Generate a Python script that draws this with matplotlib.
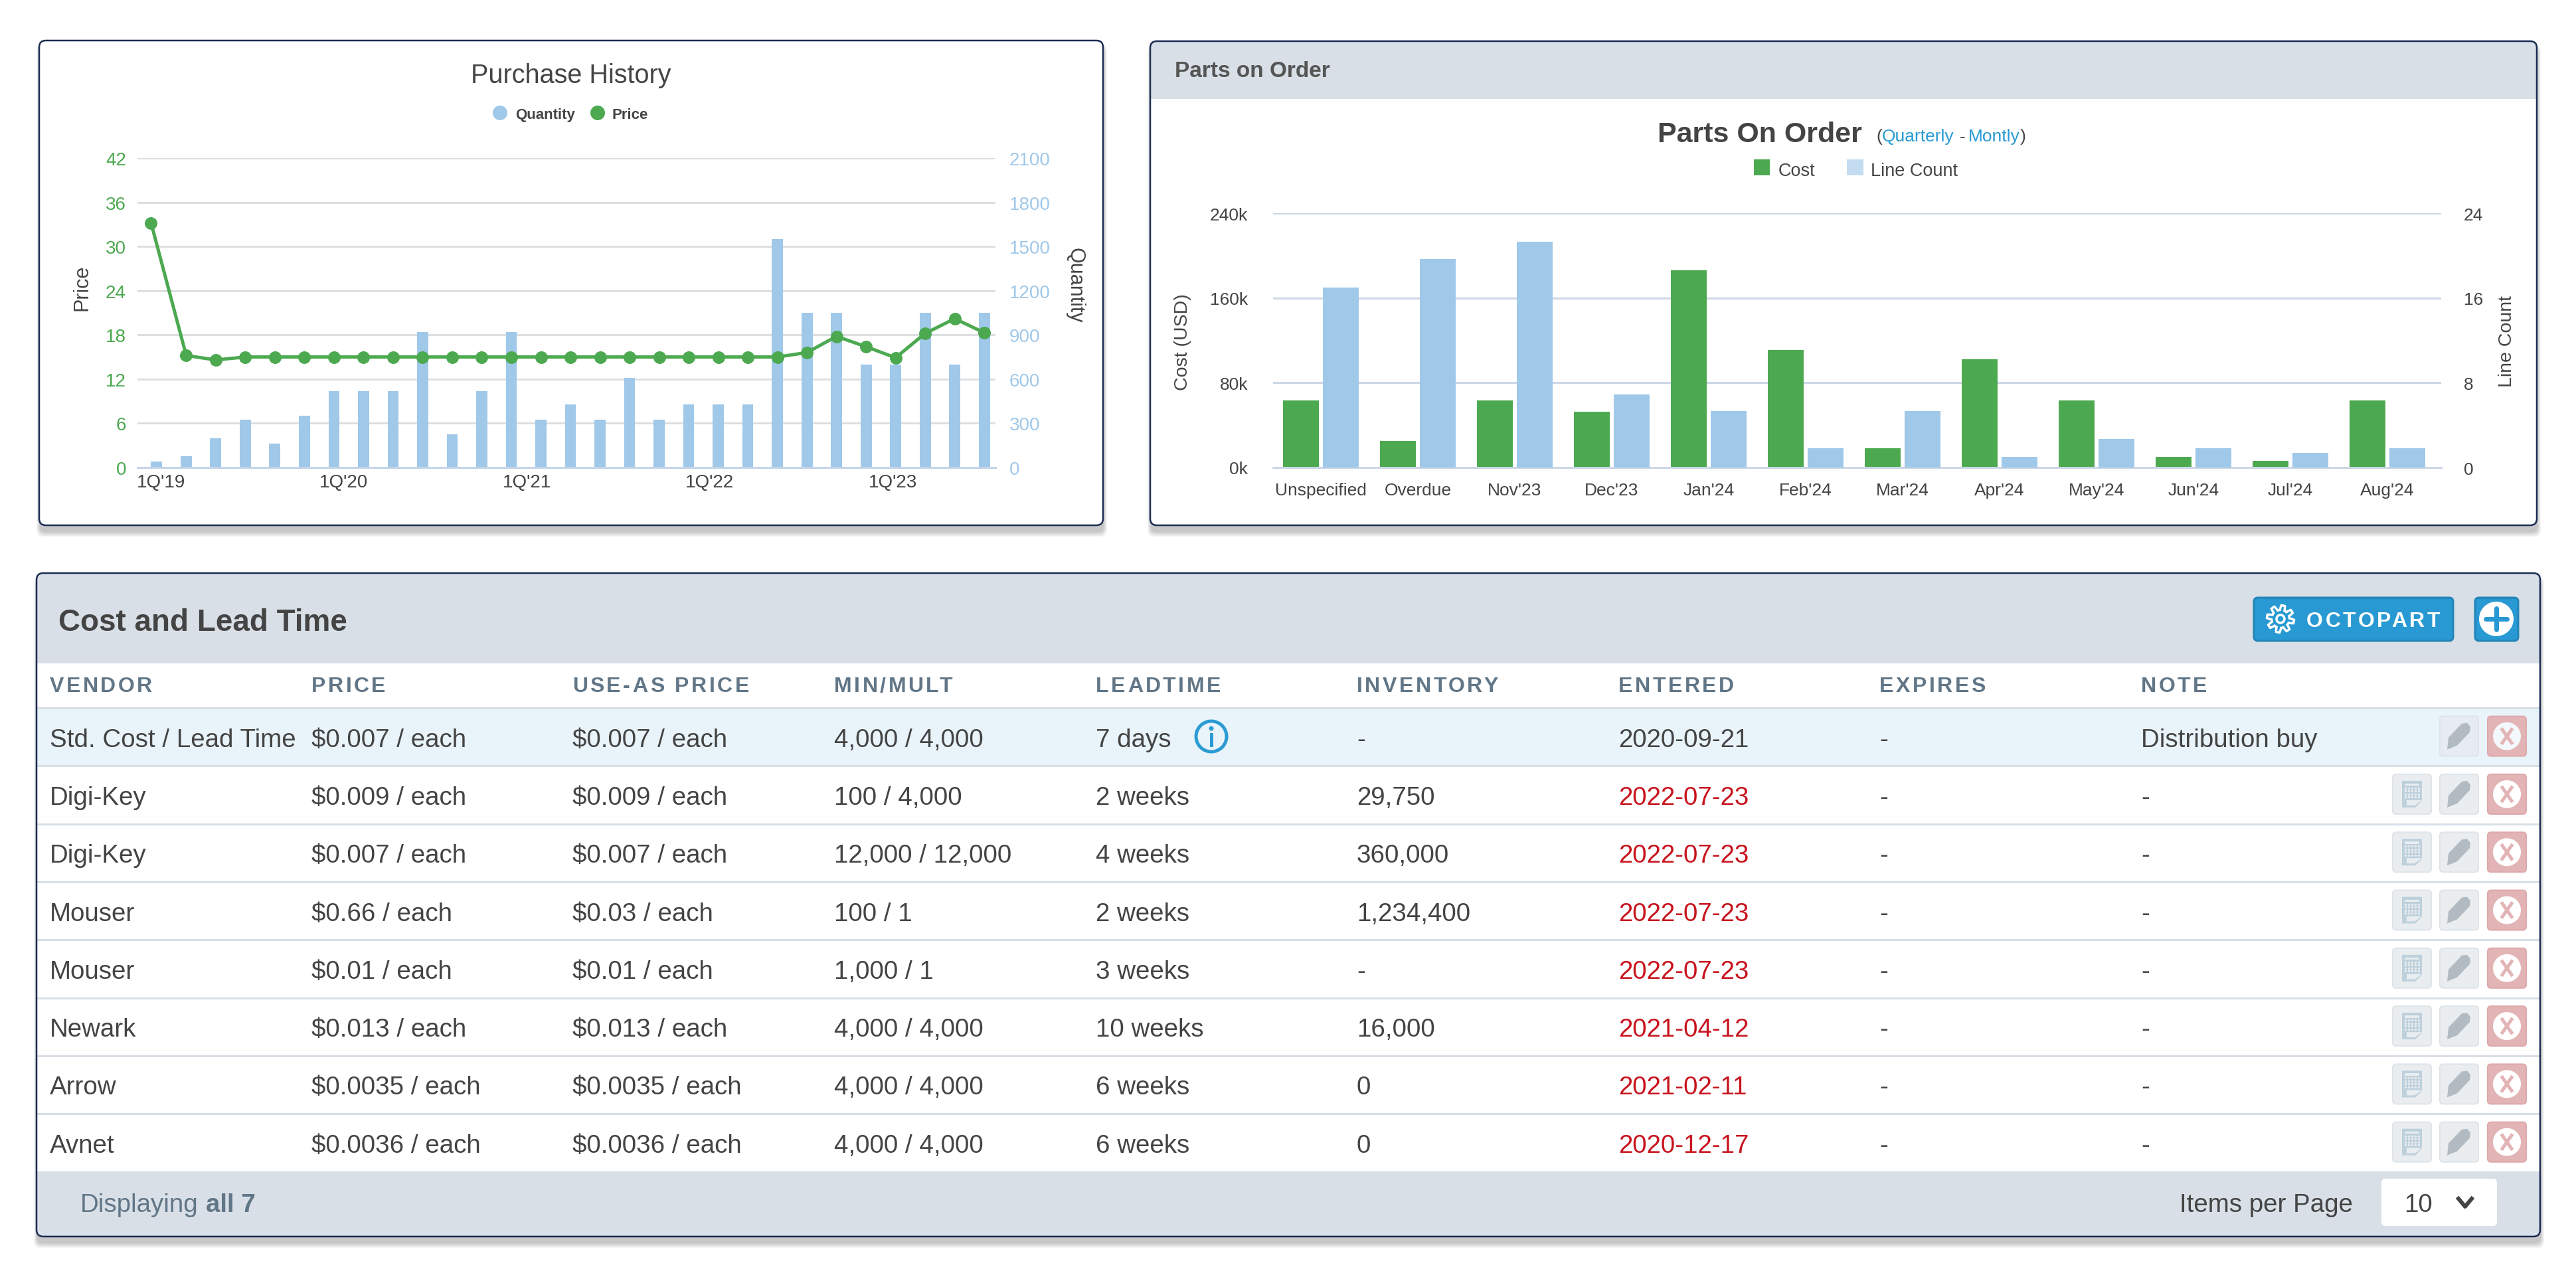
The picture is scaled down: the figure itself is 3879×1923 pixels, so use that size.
import numpy as np
import matplotlib
matplotlib.use('Agg')
import matplotlib.pyplot as plt
from matplotlib.patches import FancyBboxPatch, Rectangle, Circle, Polygon
from matplotlib.font_manager import FontProperties

plt.rcParams['font.family'] = ['Liberation Sans', 'DejaVu Sans']

W, H = 3880, 1924

# Purchase history
quantity = [40, 75, 200, 325, 160, 350, 520, 520, 520, 920, 225, 520, 920, 325, 430,
            325, 610, 325, 430, 430, 430, 1550, 1050, 1050, 700, 700, 1050, 700, 1050]
price = [33.2, 15.2, 14.6, 15, 15, 15, 15, 15, 15, 15, 15, 15, 15, 15, 15,
         15, 15, 15, 15, 15, 15, 15, 15.6, 17.8, 16.4, 14.9, 18.2, 20.2, 18.3]
quarter_labels = ["1Q'19", "1Q'20", "1Q'21", "1Q'22", "1Q'23"]
price_ticks = [0, 6, 12, 18, 24, 30, 36, 42]
quantity_ticks = [0, 300, 600, 900, 1200, 1500, 1800, 2100]

# Parts on order
order_months = ['Unspecified', 'Overdue', "Nov'23", "Dec'23", "Jan'24", "Feb'24",
                "Mar'24", "Apr'24", "May'24", "Jun'24", "Jul'24", "Aug'24"]
order_cost = [63000, 25000, 63000, 52500, 186000, 111000, 18000, 102000, 63000, 10000, 6000, 63000]
order_lines = [17, 19.7, 21.3, 6.9, 5.3, 1.8, 5.3, 1, 2.7, 1.8, 1.35, 1.8]
cost_ticks = [0, 80000, 160000, 240000]
cost_tick_labels = ['0k', '80k', '160k', '240k']
line_ticks = [0, 8, 16, 24]

# Cost and lead time table
table_headers = ['VENDOR', 'PRICE', 'USE-AS PRICE', 'MIN/MULT', 'LEADTIME', 'INVENTORY', 'ENTERED', 'EXPIRES', 'NOTE']
vendors = ['Std. Cost / Lead Time', 'Digi-Key', 'Digi-Key', 'Mouser', 'Mouser', 'Newark', 'Arrow', 'Avnet']
prices = ['$0.007 / each', '$0.009 / each', '$0.007 / each', '$0.66 / each', '$0.01 / each',
          '$0.013 / each', '$0.0035 / each', '$0.0036 / each']
use_as = ['$0.007 / each', '$0.009 / each', '$0.007 / each', '$0.03 / each', '$0.01 / each',
          '$0.013 / each', '$0.0035 / each', '$0.0036 / each']
min_mult = ['4,000 / 4,000', '100 / 4,000', '12,000 / 12,000', '100 / 1', '1,000 / 1',
            '4,000 / 4,000', '4,000 / 4,000', '4,000 / 4,000']
leadtimes = ['7 days', '2 weeks', '4 weeks', '2 weeks', '3 weeks', '10 weeks', '6 weeks', '6 weeks']
inventory = ['-', '29,750', '360,000', '1,234,400', '-', '16,000', '0', '0']
entered = ['2020-09-21', '2022-07-23', '2022-07-23', '2022-07-23', '2022-07-23',
           '2021-04-12', '2021-02-11', '2020-12-17']
expires = ['-'] * 8
notes = ['Distribution buy', '-', '-', '-', '-', '-', '-', '-']

GREEN = '#4ca950'
BLUE = '#a0c8e9'
LIGHT_BLUE = '#c4dcf1'
DARK = '#444444'
BAND = '#d8dfe6'
NAVY = '#1b2b52'
LINK = '#2a9bd3'
SLATE = '#617687'
RED_TEXT = '#c8141e'


def px(v):
    # pixels to points
    return v * 0.72


fig = plt.figure(figsize=(W / 100, H / 100), dpi=100, facecolor='white')
bg = fig.add_axes([0, 0, 1, 1])
bg.set_xlim(0, W)
bg.set_ylim(H, 0)
bg.axis('off')
renderer = fig.canvas.get_renderer()


def spaced_text(x, y, s, spacing, size, **kw):
    # letter spaced text, one char at a time
    prop = FontProperties(family='Liberation Sans', size=size, weight=kw.get('weight', 'normal'))
    for i, ch in enumerate(s):
        w_pre = renderer.get_text_width_height_descent(s[:i + 1], prop, False)[0]
        w_ch = renderer.get_text_width_height_descent(ch, prop, False)[0]
        bg.text(x + w_pre - w_ch + i * spacing, y, ch, fontsize=size, va='center_baseline', ha='left', **kw)


def card(x0, y0, x1, y1):
    for i in range(14):
        bg.add_patch(FancyBboxPatch((x0 + 1 - i * 0.4, y0 + 10 - i * 0.4), x1 - x0 + i * 0.8, y1 - y0 + i * 1.0,
                                    boxstyle='round,pad=0,rounding_size=10', fc='black', ec='none',
                                    alpha=0.016, zorder=1))
    c = FancyBboxPatch((x0, y0), x1 - x0, y1 - y0, boxstyle='round,pad=0,rounding_size=10',
                       fc='white', ec='none', zorder=2)
    bg.add_patch(c)
    return c


def card_border(x0, y0, x1, y1):
    bg.add_patch(FancyBboxPatch((x0, y0), x1 - x0, y1 - y0, boxstyle='round,pad=0,rounding_size=10',
                                fc='none', ec=NAVY, lw=px(2.5), zorder=6))


def button(cx, cy, color, edge):
    bg.add_patch(FancyBboxPatch((cx - 29, cy - 30), 58, 60, boxstyle='round,pad=0,rounding_size=5',
                                fc=color, ec=edge, lw=px(2), zorder=4))


# Cards
card(59, 62, 1661, 792)
card_border(59, 62, 1661, 792)
c2 = card(1732, 63, 3820, 792)
r = Rectangle((1732, 63), 2088, 87, fc=BAND, ec='none', zorder=3)
bg.add_patch(r)
r.set_clip_path(c2)
card_border(1732, 63, 3820, 792)
bg.text(1769, 104, 'Parts on Order', fontsize=24, weight='bold', color='#555555', va='center_baseline', zorder=7)

c3 = card(55, 864, 3825, 1863)
for (y0, h) in [(864, 136), (1765, 98)]:
    r = Rectangle((55, y0), 3770, h, fc=BAND, ec='none', zorder=3)
    bg.add_patch(r)
    r.set_clip_path(c3)
bg.add_patch(Rectangle((55, 1067), 3770, 87.3, fc='#e9f3fa', ec='none', zorder=3))
card_border(55, 864, 3825, 1863)

# Purchase history chart
ax_qty = fig.add_axes([207 / W, 1 - 705 / H, (1499 - 207) / W, (705 - 239) / H])
ax_price = ax_qty.twinx()
ax_price.set_zorder(ax_qty.get_zorder() + 1)
ax_price.patch.set_visible(False)
ax_qty.patch.set_visible(False)
x = np.arange(len(quantity))
ax_qty.bar(x, quantity, width=0.38, color=BLUE, zorder=3)
price_x = x.astype(float)
price_x[0] -= 0.19
ax_price.plot(price_x, price, color=GREEN, lw=px(5), marker='o', ms=px(19), mew=0, clip_on=False)
ax_qty.set_xlim(-0.65, 28.38)
ax_qty.set_ylim(0, 2100)
ax_price.set_ylim(0, 42)
ax_qty.set_yticks(quantity_ticks)
ax_price.set_yticks(price_ticks)
ax_qty.set_xticks(0.14 + 6.19 * np.arange(5))
ax_qty.set_xticklabels(quarter_labels)
ax_qty.yaxis.tick_right()
ax_price.yaxis.tick_left()
ax_qty.grid(axis='y', color='#dcdfe2', lw=px(3), zorder=0)
ax_qty.set_axisbelow(True)
ax_qty.tick_params(axis='x', length=0, pad=px(9), labelsize=20, labelcolor=DARK)
ax_qty.tick_params(axis='y', length=0, pad=px(21), labelsize=20, labelcolor=BLUE)
ax_price.tick_params(axis='y', length=0, pad=px(17), labelsize=20, labelcolor=GREEN)
for a in [ax_qty, ax_price]:
    for name, s in a.spines.items():
        s.set_visible(name == 'bottom')
        s.set_color('#c5d5e8')
        s.set_linewidth(px(3))
bg.text(124, 433, 'Price', rotation=90, fontsize=22, color=DARK, ha='center', va='center')
bg.text(1619, 430, 'Quantity', rotation=270, fontsize=22, color=DARK, ha='center', va='center')
bg.text(860, 114, 'Purchase History', fontsize=28.5, color=DARK, ha='center', va='center', zorder=7)
bg.add_patch(Circle((753, 171), 11, fc=BLUE, ec='none', zorder=7))
bg.text(776, 171, 'Quantity', fontsize=16, weight='bold', color=DARK, va='center_baseline', zorder=7)
bg.add_patch(Circle((900, 171), 11, fc=GREEN, ec='none', zorder=7))
bg.text(922, 171, 'Price', fontsize=16, weight='bold', color=DARK, va='center_baseline', zorder=7)

# Parts on order chart
ax_cost = fig.add_axes([1917 / W, 1 - 705 / H, (3676 - 1917) / W, (705 - 322) / H])
ax_lines = ax_cost.twinx()
ax_cost.patch.set_visible(False)
ax_lines.patch.set_visible(False)
xm = np.arange(len(order_months))
ax_cost.bar(xm - 0.205, order_cost, width=0.365, color=GREEN, zorder=3)
ax_lines.bar(xm + 0.205, order_lines, width=0.365, color=BLUE, zorder=3)
ax_cost.set_xlim(-0.493, 11.555)
ax_cost.set_ylim(0, 240000)
ax_lines.set_ylim(0, 24)
ax_cost.set_xticks(xm)
ax_cost.set_xticklabels(order_months)
ax_cost.set_yticks(cost_ticks)
ax_cost.set_yticklabels(cost_tick_labels)
ax_lines.set_yticks(line_ticks)
ax_cost.grid(axis='y', color='#ccd7e6', lw=px(3), zorder=0)
ax_cost.set_axisbelow(True)
ax_cost.tick_params(axis='x', length=0, pad=px(22), labelsize=19, labelcolor=DARK)
ax_cost.tick_params(axis='y', length=0, pad=px(38), labelsize=19, labelcolor=DARK)
ax_lines.tick_params(axis='y', length=0, pad=px(34), labelsize=19, labelcolor=DARK)
for a in [ax_cost, ax_lines]:
    for name, s in a.spines.items():
        s.set_visible(name == 'bottom')
        s.set_color('#ccd7e6')
        s.set_linewidth(px(3))
bg.text(1781, 515, 'Cost (USD)', rotation=90, fontsize=20.5, color=DARK, ha='center', va='center')
bg.text(3775, 514, 'Line Count', rotation=90, fontsize=20.5, color=DARK, ha='center', va='center')
bg.text(2496, 198, 'Parts On Order', fontsize=31, weight='bold', color=DARK, va='center_baseline', zorder=7)
bg.text(2825, 204, '(', fontsize=19, color=DARK, va='center_baseline', zorder=7)
bg.text(2834, 204, 'Quarterly', fontsize=19, color=LINK, va='center_baseline', zorder=7)
bg.text(2951, 204, '-', fontsize=19, color=DARK, va='center_baseline', zorder=7)
bg.text(2964, 204, 'Montly', fontsize=19, color=LINK, va='center_baseline', zorder=7)
bg.text(3042, 204, ')', fontsize=19, color=DARK, va='center_baseline', zorder=7)
bg.add_patch(Rectangle((2641, 241), 24, 24, fc=GREEN, ec='none', zorder=7))
bg.text(2678, 255, 'Cost', fontsize=19.5, color=DARK, va='center_baseline', zorder=7)
bg.add_patch(Rectangle((2781, 241), 25, 24, fc=LIGHT_BLUE, ec='none', zorder=7))
bg.text(2817, 255, 'Line Count', fontsize=19.5, color=DARK, va='center_baseline', zorder=7)

# Table header band
bg.text(88, 933, 'Cost and Lead Time', fontsize=33, weight='bold', color=DARK, va='center_baseline', zorder=7)
bg.add_patch(FancyBboxPatch((3394, 901), 300, 65, boxstyle='round,pad=0,rounding_size=6',
                            fc='#2899d2', ec='#2384b8', lw=px(3), zorder=4))
spaced_text(3473, 933, 'OCTOPART', 3.5, 23, weight='bold', color='white', zorder=7)
# gear icon
ang = np.linspace(0, 2 * np.pi, 97)
rad = 17 + 3.5 * np.clip(3 * np.sin(8 * ang), -1, 1)
bg.add_patch(Polygon(np.c_[3434 + rad * np.cos(ang), 933 + rad * np.sin(ang)], fc='none', ec='white',
                     lw=px(3.5), zorder=7))
bg.add_patch(Circle((3434, 933), 6, fc='none', ec='white', lw=px(3.5), zorder=7))
# plus button
bg.add_patch(FancyBboxPatch((3727, 901), 65, 65, boxstyle='round,pad=0,rounding_size=6',
                            fc='#2899d2', ec='#2384b8', lw=px(3), zorder=4))
bg.add_patch(Circle((3759, 933), 26, fc='white', ec='none', zorder=5))
bg.plot([3743, 3775], [933, 933], color='#2899d2', lw=px(7), zorder=6, solid_capstyle='round')
bg.plot([3759, 3759], [917, 949], color='#2899d2', lw=px(7), zorder=6, solid_capstyle='round')

# Table
col_x = [75, 469, 862, 1256, 1650, 2043, 2437, 2830, 3224]
columns = [vendors, prices, use_as, min_mult, leadtimes, inventory, entered, expires, notes]
row_top = 1067
row_h = 87.3
for cx, head in zip(col_x, table_headers):
    spaced_text(cx, 1031, head, 3.5, 23, weight='bold', color=SLATE, zorder=7)
for i in range(8):
    bg.plot([55, 3825], [row_top + i * row_h] * 2, color=BAND, lw=px(3), zorder=4)
for c, (cx, col) in enumerate(zip(col_x, columns)):
    for i, val in enumerate(col):
        color = RED_TEXT if (c == 6 and i > 0) else DARK
        bg.text(cx, row_top + (i + 0.5) * row_h, val, fontsize=27.7, color=color, va='center_baseline', zorder=7)

# info icon
bg.add_patch(Circle((1824, 1110), 23, fc='none', ec=LINK, lw=px(5), zorder=7))
bg.plot([1824, 1824], [1107, 1123], color=LINK, lw=px(5), zorder=7)
bg.add_patch(Circle((1824, 1098), 3.5, fc=LINK, ec='none', zorder=7))

# row buttons
pencil = np.array([[-18, 20], [-16, 2], [4, -19], [12, -20], [17, -14], [16, -6], [-3, 14]])
for i in range(8):
    cy = row_top + (i + 0.5) * row_h - 1
    if i > 0:
        button(3632, cy, '#e9edf0', '#dfe4e8')
        bg.add_patch(Polygon([[3617, cy - 20], [3647, cy - 20], [3647, cy + 10], [3637, cy + 20], [3617, cy + 20]],
                             fc='#bdd0dc', ec='none', zorder=7))
        bg.add_patch(Rectangle((3621, cy - 16), 22, 3.5, fc='#e9edf0', ec='none', zorder=8))
        gx, gy = np.meshgrid(np.arange(3622, 3644, 5), np.arange(cy - 9, cy + 6, 4.5))
        bg.scatter(gx.ravel(), gy.ravel(), s=6, c='#e9edf0', linewidths=0, zorder=8)
        bg.add_patch(Polygon([[3624, cy + 9], [3647, cy + 9], [3636, cy + 17], [3624, cy + 17]],
                             fc='#e9edf0', ec='none', zorder=8))
    button(3703, cy, '#e6ecf1' if i == 0 else '#e9edf0', '#dfe4e8')
    bg.add_patch(Polygon(pencil + [3703, cy], fc='#b2bac2', ec='none', zorder=7))
    button(3775, cy, '#e3b4b5', '#dda9aa')
    bg.add_patch(Circle((3775, cy), 21, fc='white' if i else '#f3f8fc', ec='none', zorder=7))
    bg.plot([3768, 3782], [cy - 10, cy + 10], color='#e3b4b5', lw=px(5), zorder=8)
    bg.plot([3782, 3768], [cy - 10, cy + 10], color='#e3b4b5', lw=px(5), zorder=8)

# Footer
bg.text(121, 1811, 'Displaying', fontsize=27.7, color=SLATE, va='center_baseline', zorder=7)
bg.text(310, 1811, 'all 7', fontsize=27.7, weight='bold', color=SLATE, va='center_baseline', zorder=7)
bg.text(3282, 1811, 'Items per Page', fontsize=27.7, color=DARK, va='center_baseline', zorder=7)
bg.add_patch(FancyBboxPatch((3586, 1776), 174, 71, boxstyle='round,pad=0,rounding_size=6',
                            fc='white', ec='none', zorder=5))
bg.text(3620, 1811, '10', fontsize=27.7, color=DARK, va='center_baseline', zorder=7)
bg.plot([3702, 3712, 3722], [1806, 1818, 1806], color=DARK, lw=px(6), zorder=7)

fig.savefig('out.png', dpi=100)
